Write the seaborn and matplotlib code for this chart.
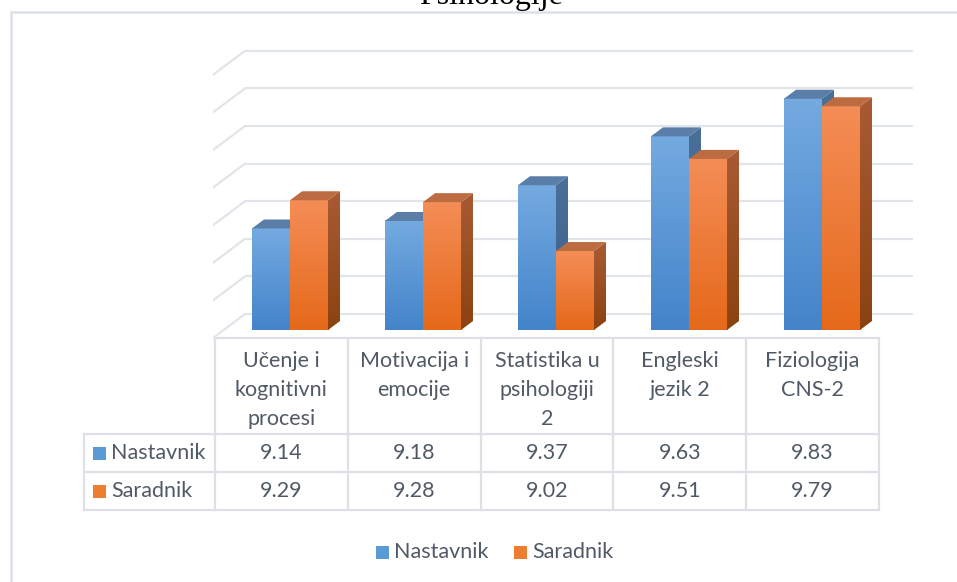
import numpy as np
import pandas as pd
import matplotlib.pyplot as plt
import matplotlib.patches as mpatches
from matplotlib.colors import to_rgb
import seaborn as sns

# =========================
# DATA
# =========================

kategorije = [
    "Učenje i\nkognitivni\nprocesi",
    "Motivacija i\nemocije",
    "Statistika u\npsihologiji\n2",
    "Engleski\njezik 2",
    "Fiziologija\nCNS-2",
]
nastavnik = [9.14, 9.18, 9.37, 9.63, 9.83]
saradnik = [9.29, 9.28, 9.02, 9.51, 9.79]
grupe = ["Nastavnik", "Saradnik"]
naslov = "Psihologije"

y_min = 8.6
y_max = 10.0
y_korak = 0.2

df = pd.DataFrame({
    "kategorija": kategorije * 2,
    "grupa": [grupe[0]] * len(nastavnik) + [grupe[1]] * len(saradnik),
    "vrednost": nastavnik + saradnik,
})
df["visina"] = df["vrednost"] - y_min

# =========================
# STYLE
# =========================

sns.set_style("white")
plt.rcParams["font.family"] = ["Lato", "DejaVu Sans"]

TEXT = "#505a66"
LINE = "#dde1e7"
GRID = "#e1e5ea"

# front top / front bottom / side top / side bottom / top face
boje = {
    "Nastavnik": ("#74aae0", "#4384ca", "#4a6f98", "#3a5f88", "#5a7ea8"),
    "Saradnik": ("#f48d56", "#e5691a", "#a85b33", "#8b4211", "#bd6b40"),
}
legenda_boje = {"Nastavnik": "#5b9bd5", "Saradnik": "#ed7d31"}

W, H = 957, 582
PX_X = 133.0   # px per category
PX_Y = 188.0   # px per value unit
X0 = 290.0     # px of first category centre
Y0 = 330.0     # px of the axis minimum (front plane)

fig = plt.figure(figsize=(W / 100, H / 100), dpi=100)


def box(l, t, r, b):
    return [l / W, 1 - b / H, (r - l) / W, (b - t) / H]


# overlay in pixel coordinates for border, title and data table
ov = fig.add_axes([0, 0, 1, 1], zorder=0)
ov.set_xlim(0, W)
ov.set_ylim(H, 0)
ov.axis("off")

ax = fig.add_axes(box(213, 40, 913, 338), zorder=1)

# =========================
# BACK WALL + SIDE WALL
# =========================

back_dy = 16 / PX_Y
wall_dx = 32 / PX_X
wall_dy = 24 / PX_Y
x_back_left = (245 - X0) / PX_X
x_right = (913 - X0) / PX_X

n_grid = int(round((y_max - y_min) / y_korak)) + 1
for k in range(n_grid):
    g = k * y_korak + back_dy
    ax.plot([x_back_left, x_right], [g, g], color=GRID, lw=1.6, zorder=1,
            solid_capstyle="butt")
    ax.plot([x_back_left, x_back_left - wall_dx], [g, g - wall_dy],
            color=GRID, lw=1.6, zorder=1)

# =========================
# BARS
# =========================

sns.barplot(
    data=df, x="kategorija", y="visina", hue="grupa", hue_order=grupe,
    order=kategorije, palette=[legenda_boje[g] for g in grupe],
    width=0.572, saturation=1, legend=False, ax=ax,
)

bar_dx = 12 / PX_X
bar_dy = 9 / PX_Y


def gradijent(x0, x1, y0, y1, c_top, c_bot, z, clip=None):
    t = np.linspace(0, 1, 64)[:, None]
    img = (np.array(to_rgb(c_top)) * (1 - t) + np.array(to_rgb(c_bot)) * t)[:, None, :]
    im = ax.imshow(img, extent=[x0, x1, y0, y1], aspect="auto",
                   interpolation="bilinear", zorder=z)
    if clip is not None:
        im.set_clip_path(clip)


for gi, cont in enumerate(ax.containers):
    c_ft, c_fb, c_st, c_sb, c_top = boje[grupe[gi]]
    z = 2 + gi
    for p in cont:
        x0 = p.get_x()
        x1 = x0 + p.get_width()
        h = p.get_height()
        p.set_facecolor("none")
        p.set_edgecolor("none")
        gradijent(x0, x1, 0, h, c_ft, c_fb, z)
        side = mpatches.Polygon(
            [(x1, 0), (x1 + bar_dx, bar_dy), (x1 + bar_dx, h + bar_dy), (x1, h)],
            closed=True, facecolor="none", edgecolor="none", zorder=z)
        ax.add_patch(side)
        gradijent(x1, x1 + bar_dx, 0, h + bar_dy, c_st, c_sb, z, clip=side)
        top = mpatches.Polygon(
            [(x0, h), (x1, h), (x1 + bar_dx, h + bar_dy), (x0 + bar_dx, h + bar_dy)],
            closed=True, facecolor=c_top, edgecolor="none", zorder=z)
        ax.add_patch(top)

ax.set_xlim((213 - X0) / PX_X, (913 - X0) / PX_X)
ax.set_ylim((Y0 - 338) / PX_Y, (Y0 - 40) / PX_Y)
ax.axis("off")

# =========================
# CHART BORDER + TITLE
# =========================

ov.plot([11, W + 5], [12, 12], color=LINE, lw=1.8)
ov.plot([11, 11], [12, H + 5], color=LINE, lw=1.8)
# title sits partly above the image edge, as in the source
ov.text(491, 4, naslov, family="Liberation Serif", fontsize=23,
        color="black", ha="center", va="baseline")

# =========================
# DATA TABLE
# =========================

col_w = 132.8
t_left = 84
c_left = 215
c_right = c_left + col_w * len(kategorije)
r_head = 338
r_1 = 434
r_2 = 472
r_3 = 510

for yy in (r_1, r_2, r_3):
    ov.plot([t_left, c_right], [yy, yy], color=LINE, lw=1.6)
ov.plot([c_left, c_right], [r_head, r_head], color=LINE, lw=1.6)
ov.plot([t_left, t_left], [r_1, r_3], color=LINE, lw=1.6)
for i in range(len(kategorije) + 1):
    xx = c_left + col_w * i
    ov.plot([xx, xx], [r_head, r_3], color=LINE, lw=1.6)

fs = 15.5
for i, kat in enumerate(kategorije):
    cx = c_left + col_w * (i + 0.5)
    ov.text(cx, 351, kat, ha="center", va="top", fontsize=fs, color=TEXT,
            linespacing=1.55)
    ov.text(cx, (r_1 + r_2) / 2, f"{nastavnik[i]:.2f}", ha="center",
            va="center", fontsize=fs, color=TEXT)
    ov.text(cx, (r_2 + r_3) / 2, f"{saradnik[i]:.2f}", ha="center",
            va="center", fontsize=fs, color=TEXT)

for yy0, yy1, g in ((r_1, r_2, grupe[0]), (r_2, r_3, grupe[1])):
    cy = (yy0 + yy1) / 2
    ov.add_patch(mpatches.Rectangle((93, cy - 6.5), 13, 13,
                                    facecolor=legenda_boje[g], edgecolor="none"))
    ov.text(111, cy, g, ha="left", va="center", fontsize=fs, color=TEXT)

# =========================
# LEGEND
# =========================

for x_sq, g in ((376, grupe[0]), (514, grupe[1])):
    ov.add_patch(mpatches.Rectangle((x_sq, 552 - 6.5), 13, 13,
                                    facecolor=legenda_boje[g], edgecolor="none"))
    ov.text(x_sq + 18, 552, g, ha="left", va="center", fontsize=fs, color=TEXT)

fig.savefig("out.png", dpi=100)
